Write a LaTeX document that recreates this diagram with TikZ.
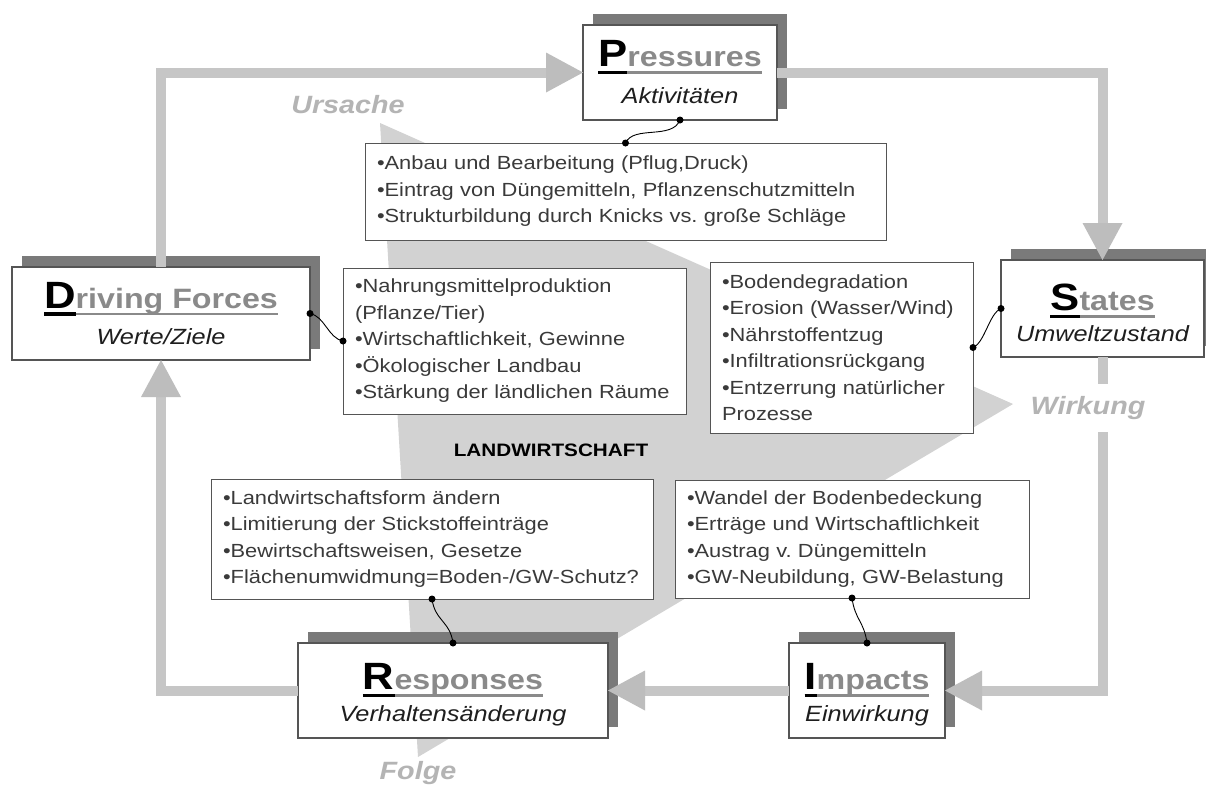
\documentclass[tikz,border=0pt]{standalone}
\usepackage{fontspec}
\setmainfont{Liberation Sans}[FakeStretch=1.15]
\usetikzlibrary{shadows}
\frenchspacing
\definecolor{titlegray}{HTML}{8A8A8A}
\definecolor{labelgray}{HTML}{B4B4B4}
\definecolor{shadowc}{HTML}{7A7A7A}
\definecolor{bgtri}{HTML}{D2D2D2}
\definecolor{linel}{HTML}{C6C6C6}
\definecolor{lined}{HTML}{A2A2A2}
\definecolor{headc}{HTML}{BDBDBD}
\definecolor{boxline}{HTML}{555555}
\definecolor{txt}{HTML}{1E1E1E}
\definecolor{dtxt}{HTML}{3A3A3A}

\newcommand\dpsrtitle[2]{%
  \setbox0=\hbox{\fontsize{38}{38}\selectfont\bfseries\color{black}#1}%
  \setbox2=\hbox{\fontsize{28}{28}\selectfont\bfseries\color{titlegray}#2}%
  \dimen0=\wd0 \advance\dimen0 by \wd2
  \rlap{\color{titlegray}\rule[-7pt]{\dimen0}{2.5pt}}%
  \rlap{\color{black}\rule[-7.5pt]{\wd0}{3.5pt}}%
  \box0\box2}
\newcommand\dpsrsub{\fontsize{22}{22}\selectfont\itshape\color{txt}}
\newcommand\dpsrstack[3]{%
  \setbox4=\hbox{#2}\setbox6=\hbox{#3}%
  \dimen2=\ifdim\wd4>\wd6 \wd4\else\wd6\fi
  \vbox{\baselineskip=#1\lineskiplimit=-50pt\lineskip=0pt
    \hbox to\dimen2{\hss\box4\hss}
    \hbox to\dimen2{\hss\box6\hss}}}

\tikzset{
  every node/.style={inner sep=0pt, outer sep=0pt},
  titlebox/.style={draw=boxline, line width=1.2pt, fill=white,
    general shadow={fill=shadowc, shadow xshift=10pt, shadow yshift=11pt}},
  detbox/.style={draw=boxline, line width=1pt, fill=white, align=left,
    inner xsep=12pt, inner ysep=0pt, text=dtxt, anchor=north west,
    font=\fontsize{19}{26.5}\selectfont\frenchspacing},
  flowl/.style={draw=linel, line width=10pt, line join=miter},
  flowd/.style={draw=lined, line width=10pt, line join=miter, xshift=3pt, yshift=-3pt},
  headtri/.style={fill=headc},
  conn/.style={draw=black, line width=0.9pt},
  lbl/.style={text=labelgray, font=\fontsize{25}{25}\selectfont\bfseries\itshape},
}

\begin{document}
\begin{tikzpicture}[x=1pt, y=-1pt]
\useasboundingbox (0,0) rectangle (1206,785);
\fill[white] (0,0) rectangle (1206,785);

% big background triangle
\fill[bgtri] (380,123) -- (1013,404) -- (418,757) -- cycle;

% detail boxes
\node[detbox, text width=497pt, minimum height=97pt] (Pdet) at (365,143)
 {\mbox{•Anbau und Bearbeitung (Pflug,Druck)}\\
  \mbox{•Eintrag von Düngemitteln, Pflanzenschutzmitteln}\\
  \mbox{•Strukturbildung durch Knicks vs. große Schläge}};
\node[detbox, text width=319pt, minimum height=146pt] (Ddet) at (343,268)
 {\mbox{•Nahrungsmittelproduktion}\\
  \mbox{(Pflanze/Tier)}\\
  \mbox{•Wirtschaftlichkeit, Gewinne}\\
  \mbox{•Ökologischer Landbau}\\
  \mbox{•Stärkung der ländlichen Räume}};
\node[detbox, text width=239pt, minimum height=171pt] (Sdet) at (710,262)
 {\mbox{•Bodendegradation}\\
  \mbox{•Erosion (Wasser/Wind)}\\
  \mbox{•Nährstoffentzug}\\
  \mbox{•Infiltrationsrückgang}\\
  \mbox{•Entzerrung natürlicher}\\
  \mbox{Prozesse}};
\node[detbox, text width=418pt, minimum height=120pt] (Rdet) at (211,479)
 {\mbox{•Landwirtschaftsform ändern}\\
  \mbox{•Limitierung der Stickstoffeinträge}\\
  \mbox{•Bewirtschaftsweisen, Gesetze}\\
  \mbox{•Flächenumwidmung=Boden-/GW-Schutz?}};
\node[detbox, text width=330pt, minimum height=118pt] (Idet) at (675,480)
 {\mbox{•Wandel der Bodenbedeckung}\\
  \mbox{•Erträge und Wirtschaftlichkeit}\\
  \mbox{•Austrag v. Düngemitteln}\\
  \mbox{•GW-Neubildung, GW-Belastung}};

% title boxes
\node[titlebox, minimum width=194pt, minimum height=95pt] (Pressures) at (680,72.5)
 {\dpsrstack{37pt}{\dpsrtitle{P}{ressures}}{\dpsrsub Aktivitäten}};
\node[titlebox, minimum width=298pt, minimum height=93pt] (Driving) at (161,313.5)
 {\dpsrstack{36pt}{\dpsrtitle{D}{riving Forces}}{\dpsrsub Werte/Ziele}};
\node[titlebox, minimum width=203pt, minimum height=97pt] (States) at (1102.5,308.5)
 {\dpsrstack{31pt}{\rule{0pt}{35.5pt}\dpsrtitle{S}{tates}}{\dpsrsub Umweltzustand}};
\node[titlebox, minimum width=156pt, minimum height=95pt] (Impacts) at (867,690.5)
 {\dpsrstack{32pt}{\rule{0pt}{35.5pt}\dpsrtitle{I}{mpacts}}{\dpsrsub Einwirkung}};
\node[titlebox, minimum width=310pt, minimum height=95pt] (Responses) at (453,690.5)
 {\dpsrstack{32pt}{\rule{0pt}{35.5pt}\dpsrtitle{R}{esponses}}{\dpsrsub Verhaltensänderung}};

% flow loop: dark under-layer
\draw[flowd, shorten <=3pt, shorten >=30pt] (Driving.north) |- (Pressures.west);
\draw[flowd, shorten <=3pt, shorten >=30pt] (Pressures.east) -| (States.north);
\draw[flowd, shorten <=3pt, shorten >=30pt] (States.south) |- (Impacts.east);
\draw[flowd, shorten <=3pt, shorten >=30pt] (Impacts.west) -- (Responses.east);
\draw[flowd, shorten <=3pt, shorten >=30pt] (Responses.west) -| (Driving.south);
% light layer
\draw[flowl, shorten >=30pt] (Driving.north) |- (Pressures.west);
\draw[flowl, shorten >=30pt] (Pressures.east) -| (States.north);
\draw[flowl, shorten >=30pt] (States.south) |- (Impacts.east);
\draw[flowl, shorten >=30pt] (Impacts.west) -- (Responses.east);
\draw[flowl, shorten >=30pt] (Responses.west) -| (Driving.south);
% arrow heads
\fill[headtri] (Pressures.west) -- ++(-37,-20) -- ++(0,40) -- cycle;
\fill[headtri] (States.north) -- ++(-20,-37) -- ++(40,0) -- cycle;
\fill[headtri] (Impacts.east) -- ++(37,-20) -- ++(0,40) -- cycle;
\fill[headtri] (Responses.east) -- ++(37,-20) -- ++(0,40) -- cycle;
\fill[headtri] (Driving.south) -- ++(-20,37) -- ++(40,0) -- cycle;

% wavy connectors with dots
\draw[conn] (Pressures.south) .. controls +(-8,20) and +(8,-18) .. (Pdet.north);
\draw[conn] (Driving.east) .. controls +(15,3) and +(-15,-3) .. (Ddet.west);
\draw[conn] (Sdet.east) .. controls +(12,-5) and +(-12,5) .. (States.west);
\draw[conn] (Rdet.south) .. controls +(3,22) and +(-3,-22) .. (Responses.north);
\draw[conn] (Idet.south) .. controls +(3,22) and +(-3,-22) .. (Impacts.north);
\foreach \p in {Pressures.south, Pdet.north, Driving.east, Ddet.west, Sdet.east,
  States.west, Rdet.south, Responses.north, Idet.south, Impacts.north}
  \fill[black] (\p) circle (3.5);

% labels
\node[lbl] (Ursache) at (348,105) {Ursache};
\node[lbl, fill=white, inner xsep=2pt, inner ysep=12pt] (Wirkung) at (1088,408) {Wirkung};
\node[lbl] (Folge) at (418,773) {Folge};
\node[font=\fontsize{18}{18}\selectfont\bfseries, text=black] (Landw) at (551,450) {LANDWIRTSCHAFT};
\end{tikzpicture}
\end{document}
